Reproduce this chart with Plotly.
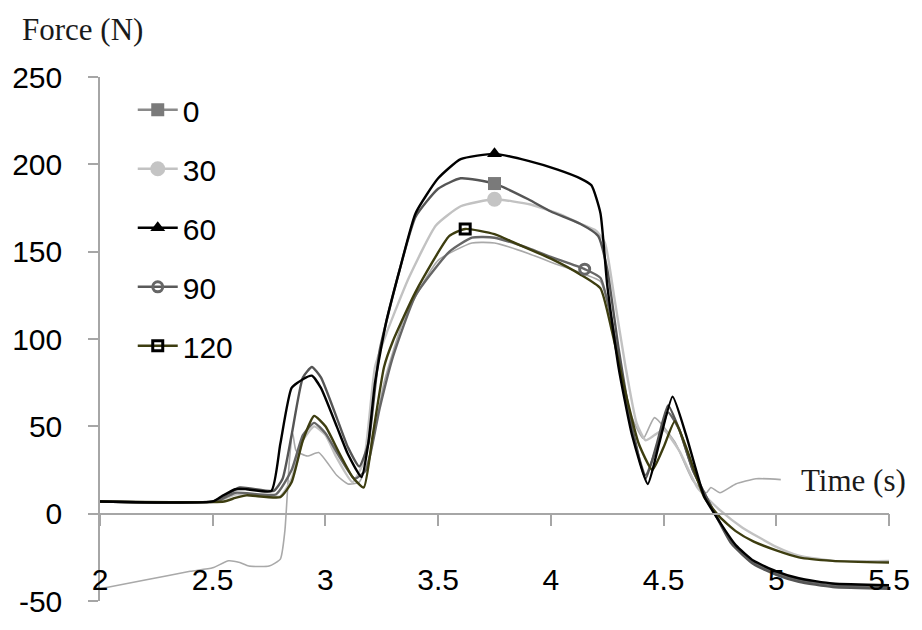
import plotly.graph_objects as go

# ---------------- data ----------------
x_ticks = [2, 2.5, 3, 3.5, 4, 4.5, 5, 5.5]
x_ticklabels = ["2", "2.5", "3", "3.5", "4", "4.5", "5", "5.5"]
y_ticks = [-50, 0, 50, 100, 150, 200, 250]
y_ticklabels = ["-50", "0", "50", "100", "150", "200", "250"]

series_names = ["0", "30", "60", "90", "120"]

x_0 = [2.0, 2.5, 2.55, 2.62, 2.77, 2.81, 2.85, 2.9, 2.94, 2.98, 3.05, 3.1, 3.15, 3.19, 3.24, 3.33, 3.40,
       3.50, 3.6, 3.75, 3.9, 4.0, 4.13, 4.21, 4.25, 4.3, 4.36, 4.42, 4.47, 4.52, 4.57, 4.63, 4.7, 4.8,
       4.9, 5.0, 5.1, 5.25, 5.5]
y_0 = [7, 7, 10, 15, 13, 20, 45, 78, 84, 78, 55, 38, 27, 40, 93, 140, 170,
       186, 192, 189, 180, 173, 166, 159, 140, 95, 50, 20, 40, 62, 48, 25, 7, -17,
       -29, -35, -39, -42, -43]

x_30 = [2.0, 2.52, 2.6, 2.8, 2.85, 2.9, 2.95, 3.0, 3.05, 3.12, 3.17, 3.22, 3.27, 3.37, 3.49, 3.6, 3.75,
        3.91, 4.05, 4.13, 4.2, 4.24, 4.28, 4.33, 4.38, 4.42, 4.46, 4.5, 4.57, 4.65, 4.75, 4.85, 5.0,
        5.1, 5.25, 5.5]
y_30 = [7, 7, 11, 10, 20, 42, 50, 45, 32, 18, 30, 84, 103, 135, 165, 176, 180,
        177, 171, 166, 162, 155, 125, 85, 52, 42, 45, 48, 36, 15, 2, -8, -19,
        -24, -27, -27]

x_60 = [2.0, 2.5, 2.54, 2.6, 2.65, 2.76, 2.8, 2.85, 2.9, 2.94, 2.98, 3.05, 3.1, 3.16, 3.19, 3.22, 3.27,
        3.33, 3.40, 3.50, 3.6, 3.75, 3.9, 4.03, 4.13, 4.18, 4.22, 4.25, 4.30, 4.36, 4.43, 4.48, 4.54,
        4.6, 4.68, 4.75, 4.82, 4.9, 5.0, 5.1, 5.25, 5.5]
y_60 = [7, 7, 10, 14, 14, 13, 40, 72, 77, 79, 72, 50, 34, 21, 40, 75, 110,
        140, 172, 192, 203, 206, 202, 197, 192, 188, 172, 131, 84, 45, 17, 40, 67,
        45, 10, -5, -18, -27, -33, -37, -40, -41]

x_90 = [2.0, 2.52, 2.6, 2.78, 2.85, 2.9, 2.95, 3.0, 3.06, 3.13, 3.18, 3.24, 3.3, 3.4, 3.55, 3.65, 3.75,
        3.9, 4.0, 4.15, 4.22, 4.27, 4.32, 4.37, 4.42, 4.47, 4.52, 4.57, 4.63, 4.7, 4.8, 4.9, 5.0,
        5.1, 5.25, 5.5]
y_90 = [7, 7, 12, 11, 25, 45, 52, 46, 33, 20, 25, 60, 90, 125, 150, 158, 158,
        152, 147, 140, 135, 110, 75, 42, 22, 38, 58, 48, 25, 7, -16, -28, -34,
        -38, -41, -42]

x_120 = [2.0, 2.55, 2.6, 2.65, 2.8, 2.85, 2.9, 2.95, 3.0, 3.06, 3.12, 3.17, 3.21, 3.26, 3.30, 3.40, 3.55,
         3.62, 3.75, 3.84, 4.0, 4.13, 4.22, 4.27, 4.33, 4.39, 4.45, 4.5, 4.55, 4.6, 4.68, 4.75, 4.82,
         4.9, 5.0, 5.1, 5.25, 5.5]
y_120 = [7, 7, 9, 10.5, 9.5, 18, 42, 56, 50, 35, 21, 15, 45, 84, 99, 127, 159,
         163, 160, 155, 146, 137, 129, 105, 70, 40, 25, 38, 53, 38, 9.5, -2, -10,
         -16, -21, -25, -27, -28]

# unlabelled thin grey trace
x_extra = [2.0, 2.2, 2.4, 2.5, 2.57, 2.62, 2.66, 2.75, 2.8, 2.82, 2.84, 2.855, 2.87, 2.92, 2.97, 3.05,
           3.1, 3.15, 3.2, 3.26, 3.35, 3.5, 3.65, 3.75, 3.9, 4.0, 4.15, 4.22, 4.27, 4.31, 4.36, 4.41,
           4.46, 4.55, 4.63, 4.69, 4.71, 4.75, 4.82, 4.91, 5.02]
y_extra = [-43, -38, -33, -31, -27, -28, -30, -30, -26, -10, 30, 46, 36, 33, 35, 22,
           17, 18, 35, 75, 112, 145, 155, 155, 149, 144, 137, 133, 112, 79, 55, 43,
           55, 41, 19, 12, 15, 12, 17, 20, 19.5]

# single highlighted marker per series (x, y)
marker_x = [3.75, 3.75, 3.75, 4.15, 3.62]
marker_y = [189, 180, 206, 140, 163]

# ---------------- styles ----------------
line_colors = ["#555555", "#c2c2c2", "#000000", "#666666", "#3d3d10"]
legend_line_colors = ["#8a8a8a", "#c2c2c2", "#000000", "#5a5a5a", "#3d3d10"]
marker_colors = ["#7a7a7a", "#c4c4c4", "#000000", "#666666", "#000000"]
marker_symbols = ["square", "circle", "triangle-up", "circle-open", "square-open"]
marker_sizes = [13, 15, 13, 10, 10]
draw_rank = [3, 1, 5, 2, 4]  # draw order of lines (lower first)

xs = [x_0, x_30, x_60, x_90, x_120]
ys = [y_0, y_30, y_60, y_90, y_120]

fig = go.Figure()

fig.add_trace(go.Scatter(x=x_extra, y=y_extra, mode="lines", showlegend=False,
                         line=dict(color="#a9a9a9", width=1.6, shape="spline", smoothing=0.5),
                         hoverinfo="skip"))

order = sorted(range(5), key=lambda i: draw_rank[i])
for i in order:
    fig.add_trace(go.Scatter(x=xs[i], y=ys[i], mode="lines", name=series_names[i],
                             legendgroup=series_names[i], showlegend=False, legendrank=i + 1,
                             line=dict(color=line_colors[i], width=2.4, shape="spline", smoothing=0.5)))

for i in range(5):
    fig.add_trace(go.Scatter(x=[marker_x[i]], y=[marker_y[i]], mode="lines+markers",
                             name=series_names[i], legendgroup=series_names[i], legendrank=i + 1,
                             line=dict(color=legend_line_colors[i], width=2.4),
                             marker=dict(symbol=marker_symbols[i], size=marker_sizes[i],
                                         color=marker_colors[i],
                                         line=dict(color=marker_colors[i],
                                                   width=3 if "open" in marker_symbols[i] else 0))))

fig.update_layout(
    width=922, height=630,
    margin=dict(l=99, r=28, t=77, b=17),
    paper_bgcolor="white", plot_bgcolor="white",
    font=dict(family="Liberation Sans, Arial, sans-serif", size=30, color="#000000"),
    showlegend=True,
    legend=dict(x=0.0415, y=0.987, xanchor="left", yanchor="top", bgcolor="rgba(0,0,0,0)",
                font=dict(size=30, color="#000000"), tracegroupgap=17, itemwidth=40,
                traceorder="grouped"),
    xaxis=dict(range=[2, 5.5], tickvals=x_ticks, ticktext=x_ticklabels,
               anchor="free", position=1 / 6, showline=True, linecolor="#a6a6a6", linewidth=1.5,
               ticks="outside", ticklen=12, tickwidth=1.5, tickcolor="#a6a6a6",
               ticklabelstandoff=28, ticklabeloverflow="allow", showgrid=False, zeroline=False,
               tickfont=dict(size=30, color="#000000")),
    yaxis=dict(range=[-50, 250], tickvals=y_ticks, ticktext=y_ticklabels, domain=[0, 1],
               showline=True, linecolor="#a6a6a6", linewidth=1.5,
               ticks="outside", ticklen=10, tickwidth=1.5, tickcolor="#a6a6a6",
               ticklabelstandoff=20, ticklabeloverflow="allow", showgrid=False, zeroline=False,
               tickfont=dict(size=30, color="#000000")),
    annotations=[
        dict(text="Force (N)", xref="paper", yref="paper", x=-0.102, y=1.091,
             xanchor="left", yanchor="middle", showarrow=False,
             font=dict(family="Liberation Serif, Times New Roman, serif", size=31, color="#1a1a1a")),
        dict(text="Time (s)", xref="paper", yref="paper", x=0.8855, y=0.2295,
             xanchor="left", yanchor="middle", showarrow=False,
             font=dict(family="Liberation Serif, Times New Roman, serif", size=31, color="#1a1a1a")),
    ],
)

fig.write_html("out.html")
